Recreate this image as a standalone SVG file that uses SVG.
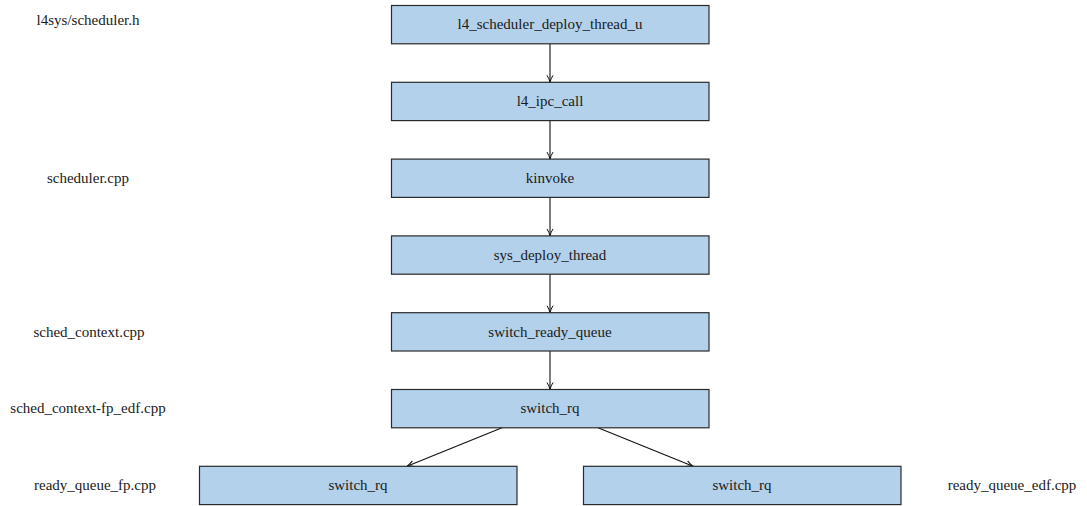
<svg xmlns="http://www.w3.org/2000/svg" width="1087" height="506" viewBox="0 0 1087 506">
  <style>
    .box { fill: #b3d1ea; stroke: #2a2a2a; stroke-width: 1.2; }
    .lbl { font-family: "Liberation Serif", "DejaVu Serif", serif; font-size: 15px; fill: #1a1a1a; text-anchor: middle; }
    .edge { stroke: #111; stroke-width: 1.1; fill: none; marker-end: url(#arrow); }
  </style>
  <defs>
    <marker id="arrow" viewBox="0 0 8 8" refX="7.5" refY="4" markerWidth="8" markerHeight="8" markerUnits="userSpaceOnUse" orient="auto">
      <path d="M0.5,1 Q4,3.2 7.5,4 Q4,4.8 0.5,7" fill="none" stroke="#111" stroke-width="1"/>
    </marker>
  </defs>

  <rect width="1087" height="506" fill="#ffffff"/>

  <!-- source file labels -->
  <g id="files">
    <text class="lbl" x="88" y="25">l4sys/scheduler.h</text>
    <text class="lbl" x="88" y="183">scheduler.cpp</text>
    <text class="lbl" x="89" y="337">sched_context.cpp</text>
    <text class="lbl" x="88" y="413">sched_context-fp_edf.cpp</text>
    <text class="lbl" x="95" y="490">ready_queue_fp.cpp</text>
    <text class="lbl" x="1012" y="490">ready_queue_edf.cpp</text>
  </g>

  <!-- call chain -->
  <g id="connectors">
    <line class="edge" x1="550" y1="43.8" x2="550" y2="82.3"/>
    <line class="edge" x1="550" y1="120.6" x2="550" y2="159.1"/>
    <line class="edge" x1="550" y1="197.4" x2="550" y2="235.9"/>
    <line class="edge" x1="550" y1="274.2" x2="550" y2="312.7"/>
    <line class="edge" x1="550" y1="351" x2="550" y2="389.5"/>
    <line class="edge" x1="502" y1="427.8" x2="407" y2="466.3"/>
    <line class="edge" x1="598" y1="427.8" x2="693" y2="466.3"/>
  </g>

  <g id="n1">
    <rect class="box" x="391.5" y="5.5" width="317.5" height="38.3"/>
    <text class="lbl" x="550" y="29">l4_scheduler_deploy_thread_u</text>
  </g>
  <g id="n2">
    <rect class="box" x="391.5" y="82.3" width="317.5" height="38.3"/>
    <text class="lbl" x="550" y="106">l4_ipc_call</text>
  </g>
  <g id="n3">
    <rect class="box" x="391.5" y="159.1" width="317.5" height="38.3"/>
    <text class="lbl" x="550" y="183">kinvoke</text>
  </g>
  <g id="n4">
    <rect class="box" x="391.5" y="235.9" width="317.5" height="38.3"/>
    <text class="lbl" x="550" y="260">sys_deploy_thread</text>
  </g>
  <g id="n5">
    <rect class="box" x="391.5" y="312.7" width="317.5" height="38.3"/>
    <text class="lbl" x="550" y="337">switch_ready_queue</text>
  </g>
  <g id="n6">
    <rect class="box" x="391.5" y="389.5" width="317.5" height="38.3"/>
    <text class="lbl" x="550" y="413">switch_rq</text>
  </g>
  <g id="n7">
    <rect class="box" x="199.5" y="466.3" width="317.5" height="38.3"/>
    <text class="lbl" x="358" y="490">switch_rq</text>
  </g>
  <g id="n8">
    <rect class="box" x="583.5" y="466.3" width="317.5" height="38.3"/>
    <text class="lbl" x="742" y="490">switch_rq</text>
  </g>
</svg>
